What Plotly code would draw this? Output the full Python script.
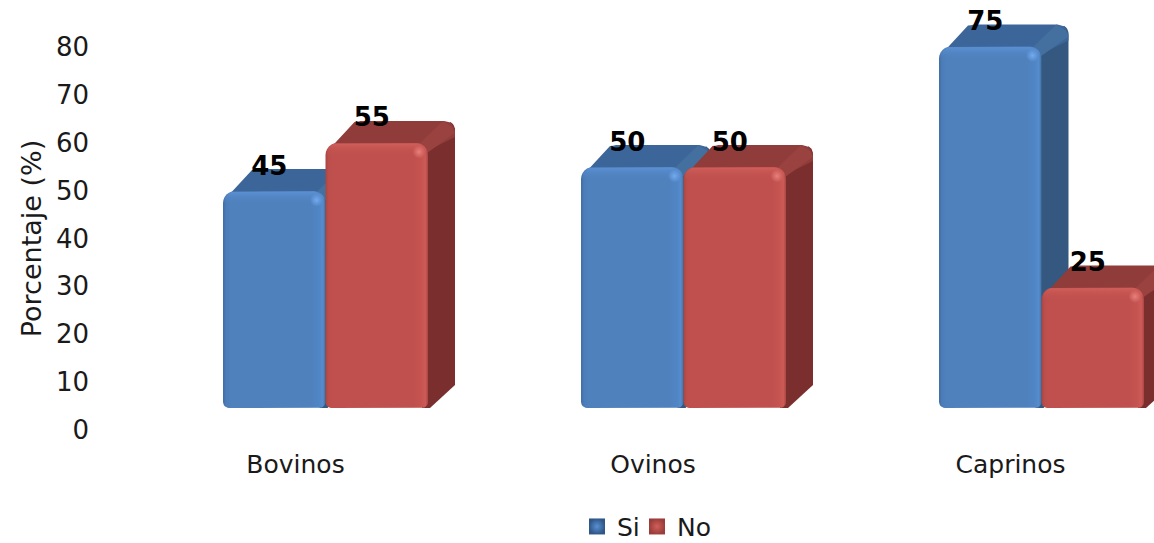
import plotly.graph_objects as go
import math

categories = ["Bovinos", "Ovinos", "Caprinos"]
si_values = [45, 50, 75]
no_values = [55, 50, 25]
y_ticks = [0, 10, 20, 30, 40, 50, 60, 70, 80]

W, H = 1154, 543
GROUP_PX = 358.0
UNIT_PX = 4.82
BAR_PX = 102.5
DEPTH_X = 27.0
DEPTH_Y = 22.0
px_x = 1 / GROUP_PX
px_y = 1 / UNIT_PX

styles = {
    "Si": dict(front=["#3f6ea6", "#4c7db8", "#4f81bd", "#4f81bd", "#5085c4", "#568bcd", "#41709f"],
               top="#3c6699", rim="#44709f", side="#34587f", light="#5a90d4", spot="#74aaf0", edge="#2f5686",
               clear="rgba(79,129,189,0)", clearspot="rgba(116,170,240,0)"),
    "No": dict(front=["#a84643", "#bb4e4b", "#c0504d", "#c0504d", "#c55451", "#cc5a56", "#a84643"],
               top="#8f3c3a", rim="#9a4240", side="#7a2f2e", light="#d05e5a", spot="#e8807c", edge="#9a3d3a",
               clear="rgba(192,80,77,0)", clearspot="rgba(232,128,124,0)"),
}


def arc(cx, cy, r, a0, a1, n=6):
    return [(cx + r * math.cos(math.radians(a0 + (a1 - a0) * k / n)),
             cy + r * math.sin(math.radians(a0 + (a1 - a0) * k / n))) for k in range(n + 1)]


def rounded(x0, x1, y0, y1, rt=12.0, rb=6.0):
    """Rounded rectangle in pixel offsets from the bar's base-left; y is up."""
    pts = []
    pts += arc(x0 + rb, y0 + rb, rb, 180, 270)
    pts += arc(x1 - rb, y0 + rb, rb, 270, 360)
    pts += arc(x1 - rt, y1 - rt, rt, 0, 90)
    pts += arc(x0 + rt, y1 - rt, rt, 90, 180)
    pts.append(pts[0])
    return pts


def poly(fig, x_base, pts, color=None, gradient=None):
    xs = [x_base + p[0] * px_x for p in pts]
    ys = [p[1] * px_y for p in pts]
    kw = dict(fillcolor=color) if gradient is None else dict(fillgradient=gradient)
    fig.add_trace(go.Scatter(x=xs, y=ys, mode="lines", fill="toself", line=dict(width=0),
                             hoverinfo="skip", showlegend=False, xaxis="x", yaxis="y", **kw))


def ramp(kind, colors):
    n = len(colors) - 1
    stops = [0, 0.03, 0.08, 0.86, 0.93, 0.975, 1] if n == 6 else [k / n for k in range(n + 1)]
    return dict(type=kind, colorscale=[[s, c] for s, c in zip(stops, colors)])


def bar3d(fig, group, offset, value, st):
    x_base = group + offset * px_x
    h = value * UNIT_PX
    bx, dx, dy = BAR_PX, DEPTH_X, DEPTH_Y
    # side face
    side = [(bx - 6, 0), (bx - 6, h - 8)]
    side += [(p[0], p[1]) for p in arc(bx + dx - 9, h + dy - 9, 9, 0, 60)][::-1]
    side += [(bx + dx, 23), (bx + 2, 0), (bx - 6, 0)]
    poly(fig, x_base, side, st["side"])
    # top face with rounded back corners
    top = [(4, h - 6), (dx + 2, h + dy - 1)]
    top += arc(dx + 8, h + dy - 6, 6, 120, 90)
    top += arc(bx + dx - 11, h + dy - 11, 11, 90, 0)
    top += [(bx + dx, h + dy - 16), (bx - 3, h - 9), (4, h - 6)]
    poly(fig, x_base, top, st["top"])
    # lit edge between top and side faces
    rim = [(bx - 10, h - 2), (bx + dx - 12, h + dy), (bx + dx - 3, h + dy - 6), (bx + dx, h + dy - 12),
           (bx - 1, h - 10), (bx - 10, h - 2)]
    poly(fig, x_base, rim, st["rim"])
    # front face with horizontal gradient
    poly(fig, x_base, rounded(0, bx, 0, h), gradient=ramp("horizontal", st["front"]))
    # lit top bevel
    bevel = rounded(1, bx - 1, h - 13, h - 0.5, rt=11, rb=0.5)
    poly(fig, x_base, bevel, gradient=dict(type="vertical", colorscale=[[0, st["clear"]], [1, st["light"]]]))
    # specular corner
    fig.add_trace(go.Scatter(x=[x_base + (bx - 9) * px_x], y=[(h - 9) * px_y], mode="markers",
                             marker=dict(size=13, color=st["clearspot"], line=dict(width=0),
                                         gradient=dict(type="radial", color=st["spot"])),
                             hoverinfo="skip", showlegend=False))


fig = go.Figure()
for i in range(len(categories)):
    bar3d(fig, i, -BAR_PX, si_values[i], styles["Si"])
    bar3d(fig, i, 0, no_values[i], styles["No"])

# data labels
label_font = dict(family="DejaVu Sans", size=26, color="black", weight="bold")
for name, vals, off in (("Si", si_values, -BAR_PX / 2 - 5), ("No", no_values, BAR_PX / 2 - 5)):
    fig.add_trace(go.Scatter(
        x=[i + off * px_x for i in range(len(categories))],
        y=[v + 23 * px_y for v in vals],
        text=[str(v) for v in vals], mode="text", textposition="middle center",
        textfont=label_font, hoverinfo="skip", showlegend=False, cliponaxis=False))

# legend entries
for name, st, leg in (("Si", styles["Si"], "legend"), ("No", styles["No"], "legend2")):
    fig.add_trace(go.Scatter(x=[None], y=[None], mode="markers", name=name, legend=leg,
                             marker=dict(symbol="square", size=16, color=st["edge"],
                                         gradient=dict(type="radial", color=st["light"]),
                                         line=dict(width=0))))

# reference axis carrying tick labels and title (offset from the bars by the 3D depth)
fig.add_trace(go.Scatter(x=[None], y=[None], xaxis="x2", yaxis="y2", showlegend=False, hoverinfo="skip"))

tick_font = dict(family="DejaVu Sans", size=26, color="#1a1a1a")
cat_font = dict(family="DejaVu Sans", size=25, color="#1a1a1a")
title_font = dict(family="DejaVu Sans", size=27, color="#1a1a1a")
ax_left = 90
legend_common = dict(orientation="h", xanchor="left", y=0.03, yanchor="middle",
                     font=cat_font, bgcolor="rgba(0,0,0,0)")
fig.update_layout(
    width=W, height=H, margin=dict(l=0, r=0, t=0, b=0, autoexpand=False),
    paper_bgcolor="white", plot_bgcolor="rgba(0,0,0,0)", showlegend=True,
    xaxis=dict(domain=[0, 1], range=[-325.5 / GROUP_PX, (W - 325.5) / GROUP_PX], visible=False, fixedrange=True),
    yaxis=dict(domain=[0, 1], range=[-(H - 408) / UNIT_PX, 408 / UNIT_PX], visible=False, fixedrange=True),
    xaxis2=dict(domain=[ax_left / W, 1], range=[(ax_left - 295.5) / 357.5, (W - 295.5) / 357.5], anchor="y2",
                tickmode="array", tickvals=list(range(len(categories))), ticktext=categories,
                ticks="outside", ticklen=12, tickcolor="rgba(0,0,0,0)", showgrid=False, showline=False,
                zeroline=False, tickfont=cat_font),
    yaxis2=dict(domain=[(H - 430) / H, (H - 47) / H], range=[0, 80], anchor="x2",
                tickmode="array", tickvals=y_ticks, ticks="", showgrid=False, showline=False, zeroline=False,
                tickfont=tick_font, title=dict(text="Porcentaje (%)", font=title_font, standoff=6)),
    legend=dict(x=577 / W, **legend_common),
    legend2=dict(x=637 / W, **legend_common),
)
fig.write_html("out.html", config=dict(displayModeBar=False),
               post_script="document.body.style.margin='0';document.documentElement.style.overflow='hidden';")
